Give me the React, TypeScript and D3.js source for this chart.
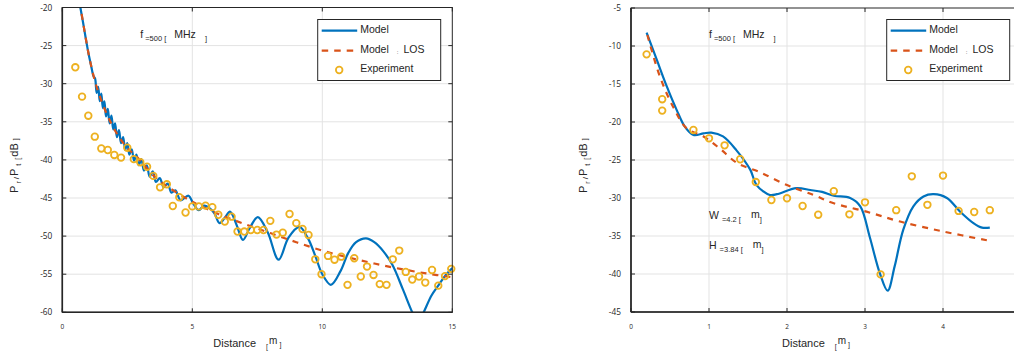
import React, { useEffect, useRef } from "react";
import * as d3 from "d3";

// ---- data ----
const leftExpX = [0.5, 0.76, 1.0, 1.25, 1.5, 1.75, 2.0, 2.26, 2.5, 2.75, 3.0, 3.26, 3.5, 3.76, 4.02, 4.25, 4.5, 4.74, 5.0, 5.25, 5.51, 5.77, 6.0, 6.25, 6.51, 6.74, 7.0, 7.25, 7.5, 7.74, 8.0, 8.24, 8.48, 8.74, 9.0, 9.24, 9.47, 9.73, 9.97, 10.22, 10.47, 10.73, 10.97, 11.23, 11.48, 11.72, 11.97, 12.21, 12.47, 12.71, 12.96, 13.21, 13.46, 13.72, 13.96, 14.22, 14.46, 14.72, 14.96];
const leftExpY = [-27.85, -31.7, -34.2, -36.95, -38.5, -38.7, -39.35, -39.7, -38.4, -39.9, -40.3, -40.9, -42.1, -43.6, -43.2, -46.05, -44.9, -46.9, -46.1, -46.1, -46.0, -46.2, -47.2, -48.1, -47.45, -49.4, -49.4, -49.2, -49.2, -49.2, -48.0, -49.8, -49.55, -47.1, -48.3, -49.07, -49.85, -53.05, -55.0, -52.6, -53.1, -52.7, -56.4, -52.9, -55.3, -54.0, -55.1, -56.3, -56.4, -53.05, -51.9, -54.7, -55.7, -55.3, -56.1, -54.45, -56.5, -55.25, -54.3];

const leftModelX = [0.66, 0.7, 0.8, 0.9, 1.0, 1.1, 1.2, 1.26, 1.32, 1.38, 1.44, 1.5, 1.56, 1.62, 1.68, 1.75, 1.82, 1.89, 1.96, 2.03, 2.1, 2.18, 2.26, 2.34, 2.42, 2.5, 2.58, 2.67, 2.76, 2.85, 2.94, 3.04, 3.14, 3.25, 3.36, 3.48, 3.6, 3.75, 3.9, 4.05, 4.2, 4.35, 4.55, 4.85, 5.05, 5.25, 5.45, 5.65, 5.85, 6.05, 6.25, 6.45, 6.7, 6.95, 7.2, 7.52, 7.9, 8.32, 8.7, 9.12, 9.45, 9.73, 10.0, 10.33, 10.7, 11.0, 11.3, 11.68, 12.0, 12.35, 12.7, 13.1, 13.46, 13.68, 13.9, 14.2, 14.48, 14.75, 15.0];
const leftModelY = [-19.2, -20.1, -22.0, -24.0, -25.9, -27.5, -29.0, -29.3, -31.2, -30.4, -32.3, -31.3, -33.2, -32.3, -34.3, -33.3, -35.2, -34.2, -36.0, -35.2, -37.0, -36.1, -37.8, -37.0, -38.7, -37.8, -39.3, -38.6, -40.1, -39.3, -40.7, -39.9, -41.4, -40.7, -42.2, -41.5, -42.9, -42.4, -43.6, -43.1, -44.3, -44.0, -45.3, -44.7, -45.8, -46.6, -46.0, -46.3, -47.0, -48.3, -47.6, -46.8, -48.5, -50.5, -49.0, -47.5, -49.5, -53.1, -50.2, -48.8, -50.3, -52.6, -55.0, -56.4, -54.6, -52.2, -50.8, -50.3, -50.8, -52.0, -53.8, -57.0, -60.0, -61.5, -60.0, -57.8, -56.4, -55.1, -54.2];

const leftLosX = [0.66, 0.7, 0.87, 1.06, 1.32, 1.7, 2.09, 2.47, 2.98, 3.49, 4.0, 5.0, 6.0, 7.0, 8.0, 9.0, 10.0, 11.0, 12.0, 13.0, 14.0, 15.0];
const leftLosY = [-19.3, -20.0, -23.4, -26.9, -30.4, -33.9, -36.5, -38.3, -40.0, -42.0, -43.4, -45.5, -47.1, -48.4, -49.6, -50.8, -51.9, -52.8, -53.6, -54.3, -54.9, -55.4];

const rightExpX = [0.2, 0.4, 0.4, 0.8, 1.0, 1.2, 1.4, 1.6, 1.8, 2.0, 2.2, 2.4, 2.6, 2.8, 3.0, 3.2, 3.4, 3.6, 3.8, 4.0, 4.2, 4.4, 4.6];
const rightExpY = [-11.1, -17.0, -18.5, -21.05, -22.15, -23.07, -24.9, -27.9, -30.26, -30.04, -31.05, -32.2, -29.1, -32.15, -30.57, -40.05, -31.6, -27.15, -30.9, -27.05, -31.7, -31.84, -31.6];

const rightModelX = [0.2, 0.33, 0.46, 0.585, 0.69, 0.8, 0.93, 1.03, 1.18, 1.35, 1.53, 1.61, 1.78, 1.87, 2.12, 2.3, 2.45, 2.6, 2.81, 2.94, 3.06, 3.19, 3.29, 3.38, 3.49, 3.62, 3.75, 3.88, 4.05, 4.22, 4.39, 4.5, 4.6];
const rightModelY = [-8.25, -11.8, -15.35, -18.4, -20.6, -21.7, -21.5, -21.4, -21.9, -23.7, -26.3, -28.3, -29.6, -29.5, -28.7, -28.95, -29.2, -29.7, -30.0, -31.1, -35.1, -39.9, -42.2, -39.0, -34.2, -31.1, -29.8, -29.5, -30.0, -31.8, -33.3, -33.9, -33.9];

const rightLosX = [0.21, 0.37, 0.54, 0.71, 0.93, 1.14, 1.36, 1.65, 2.0, 2.34, 2.6, 3.02, 3.45, 4.0, 4.58];
const rightLosY = [-8.55, -14.0, -18.0, -20.8, -21.9, -23.5, -25.4, -26.6, -28.3, -29.6, -30.7, -31.8, -33.1, -34.4, -35.6];

const leftXTicks = [0, 5, 10, 15];
const leftYTicks = [-20, -25, -30, -35, -40, -45, -50, -55, -60];
const rightXTicks = [0, 1, 2, 3, 4];
const rightYTicks = [-5, -10, -15, -20, -25, -30, -35, -40, -45];

const BLUE = "#0072BD";
const RED = "#D95319";
const YELLOW = "#EDB120";
const AXIS = "#262626";
const SANS = "'Liberation Sans', Arial, sans-serif";
const TICKFONT = "'Open Sans', sans-serif";

function zipXY(xs, ys) {
  return xs.map((x, i) => [x, ys[i]]);
}

function drawPanel(svg, cfg) {
  const { id, x0, x1, y0, y1, xDomain, yDomain, xTicks, yTicks } = cfg;
  const x = d3.scaleLinear().domain(xDomain).range([x0, x1]);
  const y = d3.scaleLinear().domain(yDomain).range([y1, y0]);
  const g = svg.append("g");
  const inside = (t, dom) => t > dom[0] && t < dom[1];

  g.append("clipPath")
    .attr("id", id)
    .append("rect")
    .attr("x", x0)
    .attr("y", y0)
    .attr("width", x1 - x0)
    .attr("height", y1 - y0);

  g.append("rect")
    .attr("x", x0).attr("y", y0)
    .attr("width", x1 - x0).attr("height", y1 - y0)
    .attr("fill", "#fff");

  // grid
  g.selectAll(".gx").data(xTicks.filter(t => inside(t, xDomain))).enter().append("line")
    .attr("x1", d => x(d)).attr("x2", d => x(d))
    .attr("y1", y0).attr("y2", y1)
    .attr("stroke", "#e3e3e3").attr("stroke-width", 1);
  g.selectAll(".gy").data(yTicks.filter(t => inside(t, yDomain))).enter().append("line")
    .attr("x1", x0).attr("x2", x1)
    .attr("y1", d => y(d)).attr("y2", d => y(d))
    .attr("stroke", "#e3e3e3").attr("stroke-width", 1);

  const plot = g.append("g").attr("clip-path", `url(#${id})`);
  const line = d3.line().x(d => x(d[0])).y(d => y(d[1])).curve(d3.curveCatmullRom.alpha(0.5));

  plot.append("path")
    .datum(zipXY(cfg.modelX, cfg.modelY))
    .attr("d", line)
    .attr("fill", "none").attr("stroke", BLUE).attr("stroke-width", 2.2);

  plot.append("path")
    .datum(zipXY(cfg.losX, cfg.losY))
    .attr("d", line)
    .attr("fill", "none").attr("stroke", RED).attr("stroke-width", 2.2)
    .attr("stroke-dasharray", "6,6");

  g.append("g").selectAll("circle")
    .data(zipXY(cfg.expX, cfg.expY))
    .enter().append("circle")
    .attr("cx", d => x(d[0])).attr("cy", d => y(d[1]))
    .attr("r", 3.3)
    .attr("fill", "none").attr("stroke", YELLOW).attr("stroke-width", 1.8);

  // box and ticks
  g.append("rect")
    .attr("x", x0).attr("y", y0)
    .attr("width", x1 - x0).attr("height", y1 - y0)
    .attr("fill", "none").attr("stroke", AXIS).attr("stroke-width", 1);
  g.append("line").attr("x1", x0).attr("x2", x0).attr("y1", y0).attr("y2", y1)
    .attr("stroke", AXIS).attr("stroke-width", 1.6);
  g.append("line").attr("x1", x0).attr("x2", x1).attr("y1", y1).attr("y2", y1)
    .attr("stroke", AXIS).attr("stroke-width", 1.6);

  const tl = 4;
  xTicks.forEach(t => {
    g.append("line").attr("x1", x(t)).attr("x2", x(t)).attr("y1", y1).attr("y2", y1 - tl).attr("stroke", AXIS);
    g.append("line").attr("x1", x(t)).attr("x2", x(t)).attr("y1", y0).attr("y2", y0 + tl).attr("stroke", AXIS);
  });
  yTicks.forEach(t => {
    g.append("line").attr("x1", x0).attr("x2", x0 + tl).attr("y1", y(t)).attr("y2", y(t)).attr("stroke", AXIS);
    g.append("line").attr("x1", x1).attr("x2", x1 - tl).attr("y1", y(t)).attr("y2", y(t)).attr("stroke", AXIS);
  });

  g.selectAll(".xl").data(xTicks).enter().append("text")
    .attr("x", d => x(d)).attr("y", y1 + 17)
    .attr("text-anchor", "middle")
    .style("font-family", TICKFONT).style("font-size", "6.5px").attr("fill", AXIS)
    .text(d => d);
  g.selectAll(".yl").data(yTicks).enter().append("text")
    .attr("x", x0 - 10).attr("y", d => y(d) + 3)
    .attr("text-anchor", "end")
    .style("font-family", TICKFONT).style("font-size", "8.3px").attr("fill", AXIS)
    .text(d => d);

  // x label
  const xl = g.append("text").attr("x", x0 + 151).attr("y", y1 + 35)
    .style("font-family", SANS).style("font-size", "11px").attr("fill", AXIS);
  xl.append("tspan").text("Distance");
  xl.append("tspan").attr("dx", 10).attr("dy", 2).style("font-size", "7px").text("[");
  xl.append("tspan").attr("dx", 1).attr("dy", -5).style("font-size", "10px").text("m");
  xl.append("tspan").attr("dx", 2).attr("dy", 3).style("font-size", "7px").text("]");

  // y label
  const yl = g.append("text")
    .attr("transform", `translate(${x0 - 44},${(y0 + y1) / 2 + 33}) rotate(-90)`)
    .style("font-family", SANS).style("font-size", "11px").attr("fill", AXIS);
  yl.append("tspan").text("P");
  yl.append("tspan").attr("dx", 2).attr("dy", 3).style("font-size", "7px").text("r");
  yl.append("tspan").attr("dx", 2).attr("dy", -2).style("font-size", "8px").text("/");
  yl.append("tspan").attr("dx", 1).attr("dy", -1).text("P");
  yl.append("tspan").attr("dx", 3).attr("dy", 3).style("font-size", "7px").text("t");
  yl.append("tspan").attr("dx", 4).attr("dy", -1).style("font-size", "7px").text("[");
  yl.append("tspan").attr("dx", 1).attr("dy", -2).text("dB");
  yl.append("tspan").attr("dx", 3).attr("dy", 0).style("font-size", "7px").text("]");

  // frequency note
  const fx = x0 + 78;
  const ft = g.append("text").attr("x", fx).attr("y", y0 + 30)
    .style("font-family", SANS).style("font-size", "10.5px").attr("fill", AXIS);
  ft.append("tspan").text("f");
  ft.append("tspan").attr("dy", 3).attr("dx", 2).style("font-size", "7.5px").text("=500 [");
  ft.append("tspan").attr("dy", -3).attr("dx", 8).text("MHz");
  ft.append("tspan").attr("dy", 3).attr("dx", 9).style("font-size", "7.5px").text("]");

  (cfg.notes || []).forEach(n => {
    const t = g.append("text").attr("x", fx).attr("y", n.y)
      .style("font-family", SANS).style("font-size", "10.5px").attr("fill", AXIS);
    t.append("tspan").text(n.head);
    t.append("tspan").attr("dy", 3).attr("dx", 3).style("font-size", "7.5px").text(n.sub);
    t.append("tspan").attr("dy", -4).attr("dx", 10).text("m");
    t.append("tspan").attr("dy", 4).attr("dx", 0).style("font-size", "7.5px").text("]");
  });

  // legend
  const lx = cfg.legendX;
  const lg = g.append("g");
  lg.append("rect").attr("x", lx).attr("y", 19.5).attr("width", 123).attr("height", 61)
    .attr("fill", "#fff").attr("stroke", AXIS).attr("stroke-width", 1);
  lg.append("line").attr("x1", lx + 4).attr("x2", lx + 39.5).attr("y1", 30.7).attr("y2", 30.7)
    .attr("stroke", BLUE).attr("stroke-width", 2.2);
  lg.append("line").attr("x1", lx + 4).attr("x2", lx + 39.5).attr("y1", 50.7).attr("y2", 50.7)
    .attr("stroke", RED).attr("stroke-width", 2.2).attr("stroke-dasharray", "6.5,6");
  lg.append("circle").attr("cx", lx + 21.5).attr("cy", 70).attr("r", 3.3)
    .attr("fill", "none").attr("stroke", YELLOW).attr("stroke-width", 1.8);
  const legText = (ty, s) => lg.append("text").attr("x", lx + 42.5).attr("y", ty)
    .style("font-family", SANS).style("font-size", "10.5px").attr("fill", AXIS).text(s);
  legText(32.5, "Model");
  const l2 = legText(52.5, "Model");
  l2.append("tspan").attr("dx", 8).attr("dy", 1).style("font-size", "6px").text(":");
  l2.append("tspan").attr("dx", 5).attr("dy", -1).text("LOS");
  legText(71.5, "Experiment");
}

export default function App() {
  const ref = useRef(null);

  useEffect(() => {
    const svg = d3.select(ref.current);
    svg.selectAll("*").remove();

    drawPanel(svg, {
      id: "clipLeft",
      x0: 62.3, x1: 452.3, y0: 7.5, y1: 312.3,
      xDomain: [0, 15], yDomain: [-60, -20],
      xTicks: leftXTicks, yTicks: leftYTicks,
      expX: leftExpX, expY: leftExpY,
      modelX: leftModelX, modelY: leftModelY,
      losX: leftLosX, losY: leftLosY,
      legendX: 317.7,
    });

    drawPanel(svg, {
      id: "clipRight",
      x0: 631, x1: 1021, y0: 8, y1: 312,
      xDomain: [0, 5], yDomain: [-45, -5],
      xTicks: rightXTicks, yTicks: rightYTicks,
      expX: rightExpX, expY: rightExpY,
      modelX: rightModelX, modelY: rightModelY,
      losX: rightLosX, losY: rightLosY,
      legendX: 886.7,
      notes: [
        { y: 219, head: "W", sub: "=4.2 [" },
        { y: 249, head: "H", sub: "=3.84 [" },
      ],
    });
  }, []);

  return (
    <svg
      ref={ref}
      width={1014}
      height={358}
      style={{ position: "absolute", left: 0, top: 0, background: "#fff" }}
    />
  );
}
